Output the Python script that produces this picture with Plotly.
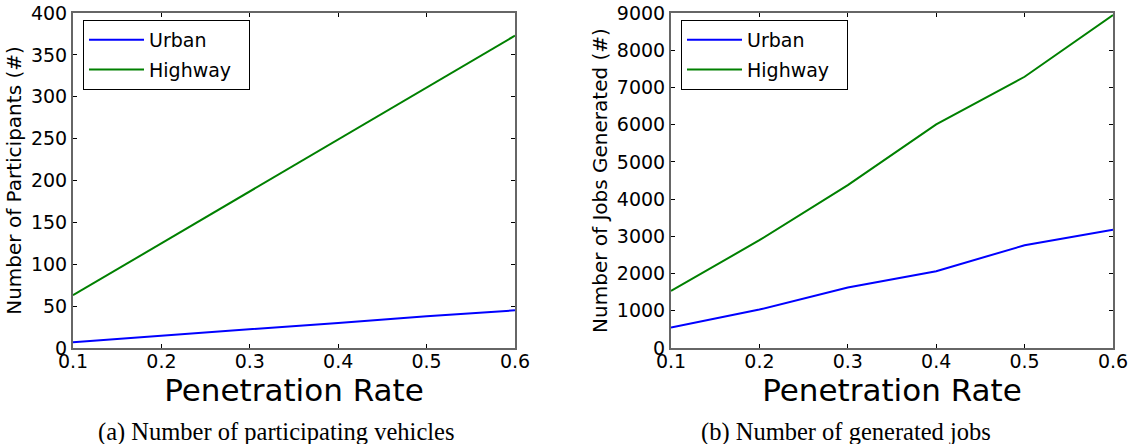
import plotly.graph_objects as go

rates = [0.1, 0.2, 0.3, 0.4, 0.5, 0.6]
participants_urban = [7, 14.5, 22, 30, 38, 45]
participants_highway = [63, 125, 187, 249, 311, 373]
jobs_urban = [548, 1032, 1624, 2062, 2761, 3180]
jobs_highway = [1533, 2896, 4374, 6007, 7287, 8946]

x_ticks = [0.1, 0.2, 0.3, 0.4, 0.5, 0.6]
y1_ticks = [0, 50, 100, 150, 200, 250, 300, 350, 400]
y2_ticks = [0, 1000, 2000, 3000, 4000, 5000, 6000, 7000, 8000, 9000]

BLUE = "#0000ff"
GREEN = "#008000"
FONT = "DejaVu Sans"
PAD = "\u00a0\u00a0"

fig = go.Figure()
fig.add_trace(go.Scatter(x=rates, y=participants_urban, name="Urban", mode="lines",
                         line=dict(color=BLUE, width=2), xaxis="x", yaxis="y",
                         legend="legend", legendgroup="a1"))
fig.add_trace(go.Scatter(x=rates, y=participants_highway, name="Highway" + PAD, mode="lines",
                         line=dict(color=GREEN, width=2), xaxis="x", yaxis="y",
                         legend="legend", legendgroup="a2"))
fig.add_trace(go.Scatter(x=rates, y=jobs_urban, name="Urban", mode="lines",
                         line=dict(color=BLUE, width=2), xaxis="x2", yaxis="y2",
                         legend="legend2", legendgroup="b1"))
fig.add_trace(go.Scatter(x=rates, y=jobs_highway, name="Highway" + PAD, mode="lines",
                         line=dict(color=GREEN, width=2), xaxis="x2", yaxis="y2",
                         legend="legend2", legendgroup="b2"))

W, H = 1129, 444
def px_x(p):
    return p / W
def px_y(p):
    return 1 - p / H

common_x = dict(range=[0.1, 0.6], tickvals=x_ticks, ticktext=[str(v) for v in x_ticks],
                ticks="inside", ticklen=4, tickcolor="black", tickwidth=1,
                showline=True, linecolor="#666666", linewidth=2, mirror="ticks",
                showgrid=False, zeroline=False, automargin=False, ticklabelstandoff=-5,
                tickfont=dict(family=FONT, size=19, color="black"),
                title=dict(text="Penetration Rate", font=dict(family=FONT, size=31, color="black"), standoff=4))
common_y = dict(ticks="inside", ticklen=4, tickcolor="black", tickwidth=1,
                showline=True, linecolor="#666666", linewidth=2, mirror="ticks",
                showgrid=False, zeroline=False, automargin=False,
                tickfont=dict(family=FONT, size=19, color="black"))

legend_common = dict(xanchor="left", yanchor="top", bordercolor="black", borderwidth=1,
                     bgcolor="white", font=dict(family=FONT, size=19, color="black"),
                     itemwidth=55, traceorder="grouped", tracegroupgap=2)

fig.update_layout(
    template="none",
    width=W, height=H,
    margin=dict(l=0, r=0, t=0, b=0, autoexpand=False),
    paper_bgcolor="white", plot_bgcolor="white",
    showlegend=True,
    xaxis=dict(domain=[px_x(73), px_x(515)], anchor="y", **common_x),
    yaxis=dict(domain=[px_y(348), px_y(13)], anchor="x", range=[0, 400], tickvals=y1_ticks,
               title=dict(text="Number of Participants (#)", font=dict(family=FONT, size=20, color="black"), standoff=4),
               **common_y),
    xaxis2=dict(domain=[px_x(671), px_x(1113)], anchor="y2", **common_x),
    yaxis2=dict(domain=[px_y(348), px_y(13)], anchor="x2", range=[0, 9000], tickvals=y2_ticks,
                title=dict(text="Number of Jobs Generated (#)", font=dict(family=FONT, size=20, color="black"), standoff=4),
                **common_y),
    legend=dict(x=px_x(83), y=px_y(20), **legend_common),
    legend2=dict(x=px_x(681), y=px_y(20), **legend_common),
    annotations=[
        dict(text="(a) Number of participating vehicles", x=px_x(276), y=px_y(432),
             xref="paper", yref="paper", showarrow=False, xanchor="center", yanchor="middle",
             font=dict(family="Liberation Serif", size=24.5, color="black")),
        dict(text="(b) Number of generated jobs", x=px_x(846), y=px_y(432),
             xref="paper", yref="paper", showarrow=False, xanchor="center", yanchor="middle",
             font=dict(family="Liberation Serif", size=24.5, color="black")),
    ],
)

fig.write_html("out.html")
